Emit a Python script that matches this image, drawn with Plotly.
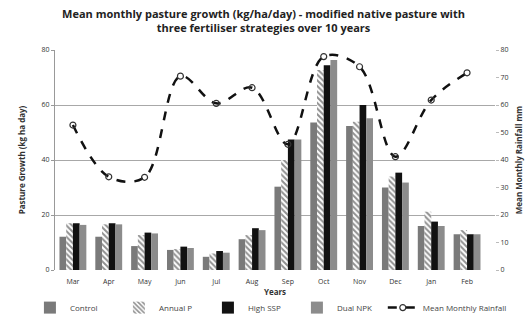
import plotly.graph_objects as go

months = ["Mar", "Apr", "May", "Jun", "Jul", "Aug", "Sep", "Oct", "Nov", "Dec", "Jan", "Feb"]
control = [12.1, 12.1, 8.7, 7.3, 4.8, 11.2, 30.3, 53.6, 52.4, 30.0, 16.0, 13.0]
annual_p = [17.0, 16.6, 12.7, 7.6, 6.0, 12.7, 40.0, 72.7, 53.9, 34.0, 21.2, 14.5]
high_ssp = [17.0, 17.0, 13.6, 8.5, 6.9, 15.2, 47.5, 74.5, 60.0, 35.4, 17.6, 13.0]
dual_npk = [16.4, 16.6, 13.3, 8.0, 6.3, 14.5, 47.5, 76.4, 55.2, 31.8, 16.0, 13.0]
rainfall = [52.7, 33.9, 33.7, 70.5, 60.6, 66.3, 45.7, 77.6, 73.9, 41.2, 61.8, 71.7]

left_ticks = [0, 20, 40, 60, 80]
right_ticks = [0, 10, 20, 30, 40, 50, 60, 70, 80]

FONT = "Open Sans"

fig = go.Figure()
fig.add_trace(go.Bar(x=months, y=control, name="Control",
                     marker=dict(color="#7a7a7a", line=dict(width=0))))
fig.add_trace(go.Bar(x=months, y=annual_p, name="Annual P",
                     marker=dict(color="white", line=dict(width=0),
                                 pattern=dict(shape="\\", fgcolor="#222222", bgcolor="white",
                                              size=4, solidity=0.5))))
fig.add_trace(go.Bar(x=months, y=high_ssp, name="High SSP",
                     marker=dict(color="#111111", line=dict(width=0))))
fig.add_trace(go.Bar(x=months, y=dual_npk, name="Dual NPK",
                     marker=dict(color="#8c8c8c", line=dict(width=0))))
fig.add_trace(go.Scatter(x=months, y=rainfall, name="Mean Monthly Rainfall", yaxis="y2",
                         mode="lines+markers", legend="legend2",
                         line=dict(color="#111111", width=2.5, dash="dash", shape="spline", smoothing=1.0),
                         marker=dict(symbol="circle-open", size=6, color="#333333",
                                     line=dict(width=1.2, color="#333333"))))

fig.update_layout(
    width=527, height=321,
    margin=dict(l=55, r=32, t=50, b=51, autoexpand=False),
    paper_bgcolor="white", plot_bgcolor="white",
    font=dict(family=FONT, size=7.5, color="#333333"),
    title=dict(text="<b>Mean monthly pasture growth (kg/ha/day) - modified native pasture with<br>three fertiliser strategies over 10 years</b>",
               x=0.5, xanchor="center", yref="container", y=0.944, yanchor="top",
               font=dict(family=FONT, size=11, color="#222222")),
    barmode="group", bargap=0.25, bargroupgap=0.0,
    xaxis=dict(title=dict(text="<b>Years</b>", font=dict(size=8, color="#333333"), standoff=2),
               range=[-0.5, 11.78], ticklabelstandoff=6,
               tickfont=dict(size=7), showline=False, ticks="", showgrid=False, automargin=False),
    yaxis=dict(range=[0, 80], tickvals=left_ticks, showgrid=True, gridcolor="#a8a8a8", gridwidth=1,
               showline=True, linecolor="#999999", ticks="outside", ticklen=3, tickcolor="#999999",
               title=dict(text="<b>Pasture Growth (kg ha day)</b>", font=dict(size=8, color="#333333"), standoff=14),
               tickfont=dict(size=7), zeroline=False, automargin=False),
    yaxis2=dict(range=[0, 80], tickvals=right_ticks, overlaying="y", side="right", showgrid=False,
                showline=False, ticks="outside", ticklen=3, tickcolor="#bbbbbb",
                title=dict(text="<b>Mean Monthly Rainfall mm</b>", font=dict(size=8, color="#333333"), standoff=8),
                tickfont=dict(size=7), zeroline=False, automargin=False),
    legend=dict(orientation="h", x=-0.057, xanchor="left", y=-0.105, yanchor="top",
                font=dict(size=8, color="#444444"), entrywidth=44, entrywidthmode="pixels",
                traceorder="normal", itemwidth=30, bgcolor="rgba(0,0,0,0)"),
    legend2=dict(orientation="h", x=0.745, xanchor="left", y=-0.105, yanchor="top",
                 font=dict(size=8, color="#444444"), itemwidth=30, bgcolor="rgba(0,0,0,0)"),
    showlegend=True,
)

fig.write_html("out.html", config={"displayModeBar": False},
               post_script="document.body.style.margin='0';")
